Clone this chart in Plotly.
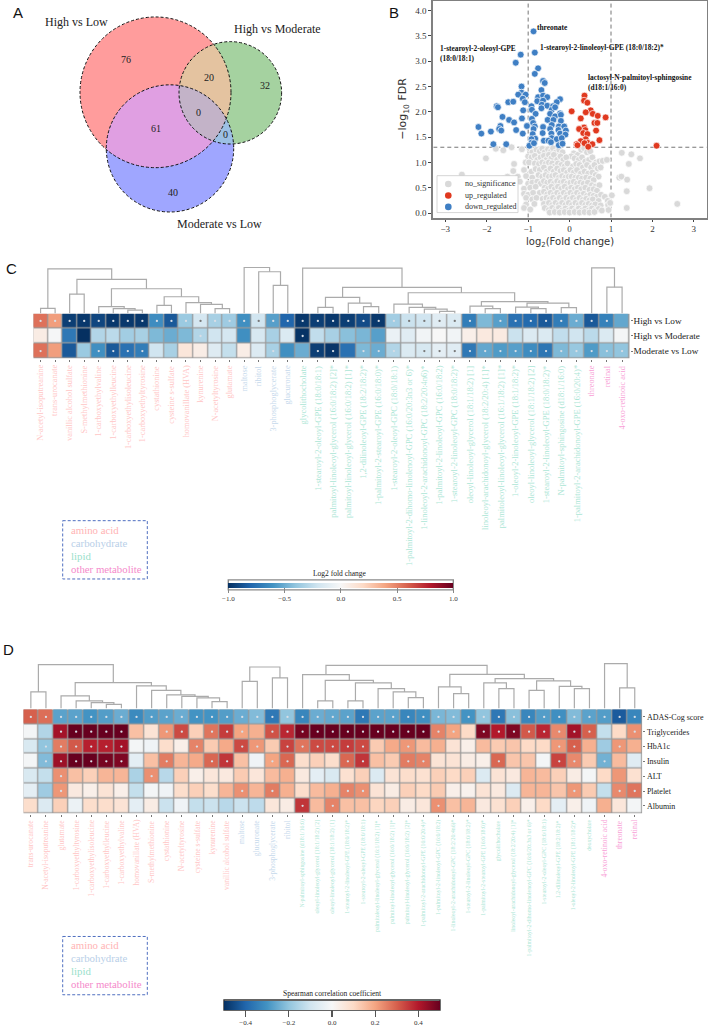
import math
import numpy as np
import plotly.graph_objects as go

W, H = 708, 1027
SERIF = "Liberation Serif"
SANS = "Liberation Sans"
CAT_COL = {"amino": "#FFB4B4", "carb": "#B9CFE8", "lipid": "#9ADFCB", "other": "#F58ACB"}
LAB_COL = {"amino": "#FFC6C6", "carb": "#C6D9EC", "lipid": "#ADE6D6", "other": "#F8A0D6"}

# ---------- panel B values ----------
blue_x = [-.87,-1.18,-.84,-1.30,-.76,-.84,-.64,-.60,-1.16,-.68,-1.16,-1.06,-1.24,-1.13,-.76,-.64,-.54,-.23,-1.48,-1.36,-1.08,-.78,-.64,-.31,-1.76,-1.73,-.92,-.67,-.54,-.40,-1.12,-.91,-.68,-.43,-.35,-.82,-.47,-.23,-1.62,-.35,-.21,-1.15,-.91,-1.46,-.53,-.39,-.21,-1.34,-.88,-1.67,-2.20,-1.03,-.64,-.84,-.43,-.26,-.13,-1.70,-1.29,-1.65,-.87,-.47,-.27,-.09,-1.90,-2.13,-1.13,-.89,-.65,-.44,-.23,-.10,-.83,-.92,-.43,-.31,-.19,-.62,-.51,-.92,-1.84,-1.53,-.97,-.86,-.45,-.26,-.17]
blue_y = [3.59,3.13,3.17,2.97,2.86,2.75,2.61,2.57,2.50,2.43,2.38,2.34,2.34,2.26,2.29,2.32,2.29,2.25,2.19,2.20,2.19,2.21,2.22,2.19,2.11,2.09,2.11,2.14,2.12,2.11,2.03,2.04,2.07,2.04,2.09,1.96,1.96,1.97,1.90,1.91,1.94,1.87,1.86,1.84,1.84,1.84,1.82,1.79,1.78,1.72,1.70,1.72,1.70,1.71,1.74,1.71,1.71,1.66,1.64,1.63,1.66,1.66,1.64,1.63,1.61,1.57,1.57,1.56,1.58,1.57,1.57,1.55,1.47,1.46,1.48,1.46,1.48,1.43,1.43,1.39,1.36,1.36,1.33,1.38,1.40,1.34,1.37]
red_x = [2.10,.36,.35,.43,.05,.51,.39,.56,.68,.87,.27,.60,.67,.35,.23,.64,.38,.33,.43,.39,.72,.27,.43,.36,.17,.19,.55,.45]
red_y = [1.33,2.32,2.22,2.18,2.01,2.03,1.99,1.96,1.92,1.89,1.87,1.78,1.78,1.69,1.66,1.63,1.64,1.58,1.56,1.46,1.44,1.42,1.39,1.38,1.36,1.34,1.36,1.31]
gray_pts = [(-1.78,1.27),(-1.6,1.24),(-1.4,1.30),(-1.15,1.26),(-.97,1.28),(-.9,1.2),(-.8,1.25),(-.72,1.22),(-.66,1.27),(-.6,1.2),(-.52,1.26),(-.45,1.22),(-.4,1.28),(-.33,1.2),(-.25,1.25),(-.17,1.2),(.1,1.18),(.2,1.15),(.28,1.25),(.35,1.28),(.42,1.2),(.5,1.22),(.04,1.12),
(-1,1.12),(-.92,1.1),(-.84,1.13),(-.78,1.05),(-.7,1.1),(-.62,1.13),(-.56,1.05),(-.5,1.15),(-.44,1.08),(-.38,1.15),(-.3,1.05),(-.22,1.12),(-.15,1.05),(-.08,1.1),(.12,1.08),(.22,1.05),(.3,1.1),(.38,1.02),(.47,1.05),(.55,1.1),(.64,1.0),(.72,1.02),(.8,1.03),(.9,1.05),
(-2.02,1.08),(-1.34,.97),(-1.06,1.0),(-.98,1.0),(-.84,.98),(-.74,.97),(-.66,1.0),(-.58,.97),(-.5,1.0),(-.42,.98),(-.36,.92),(-.28,.98),(-.2,.95),(-.12,.92),(-.05,.98),(.08,.92),(.16,.97),(.24,.95),(.32,.9),(.42,.95),(.52,.9),(.6,.95),(.68,.88),(.75,.9),
(-1.36,.83),(-1.1,.85),(-.92,.82),(-.82,.87),(-.72,.85),(-.62,.9),(-.55,.82),(-.46,.88),(-.38,.82),(-.3,.88),(-.22,.83),(-.14,.85),(-.06,.8),(.02,.85),(.1,.8),(.18,.85),(.27,.78),(.36,.82),(.45,.78),(.55,.8),(.63,.75),(.7,.72),(-1.5,.72),(-1.6,.68),(-2.6,.76),
(-1.25,.72),(-1.05,.73),(-.9,.7),(-.75,.75),(-.66,.72),(-.58,.75),(-.5,.72),(-.42,.73),(-.34,.75),(-.26,.7),(-.18,.73),(-.1,.7),(-.02,.72),(.05,.72),(.14,.7),(.22,.7),(.3,.68),(.4,.7),(.5,.68),(.58,.65),(1.2,.70),(1.25,.72),(1.39,.66),
(-1.35,.6),(-1.2,.62),(-1.0,.58),(-.9,.6),(-.78,.62),(-.7,.58),(-.62,.63),(-.54,.6),(-.46,.62),(-.38,.58),(-.3,.63),(-.22,.6),(-.14,.62),(-.06,.58),(.02,.6),(.1,.62),(.18,.58),(.26,.6),(.34,.58),(.44,.6),(.54,.55),(.62,.52),(.72,.55),
(-1.1,.48),(-.95,.5),(-.82,.52),(-.6,.5),(-.52,.48),(-.44,.52),(-.36,.47),(-.28,.52),(-.2,.48),(-.12,.52),(-.04,.47),(.04,.5),(.12,.47),(.2,.5),(.28,.47),(.38,.5),(.48,.46),(.58,.47),(.66,.44),(1.93,.49),(1.38,.43),
(-1.1,.38),(-1.0,.36),(-.88,.4),(-.72,.4),(-.62,.42),(-.54,.37),(-.46,.4),(-.38,.36),(-.3,.4),(-.22,.36),(-.14,.4),(-.06,.36),(.02,.4),(.1,.36),(.18,.4),(.26,.36),(.34,.38),(.42,.34),(.5,.36),(.58,.34),(.66,.32),(.76,.36),(.85,.32),(1.02,.35),
(-1.05,.3),(-.9,.27),(-.8,.3),(-.65,.28),(-.56,.3),(-.48,.27),(-.4,.3),(-.32,.26),(-.24,.3),(-.16,.26),(-.08,.3),(0,.27),(.08,.3),(.16,.26),(.24,.3),(.32,.26),(.4,.28),(.48,.25),(.56,.27),(.7,.24),(.92,.24),
(-1.05,.17),(-.85,.18),(-.62,.18),(-.5,.2),(-.42,.16),(-.34,.2),(-.26,.16),(-.18,.2),(-.1,.16),(-.02,.2),(.06,.16),(.14,.2),(.22,.16),(.3,.2),(.38,.16),(.46,.18),(.54,.15),(.62,.17),(.75,.15),(.93,.16),(.98,.2),(2.6,.18),
(-1.1,.1),(-.95,.07),(-.6,.1),(-.5,.06),(-.42,.1),(-.34,.06),(-.26,.1),(-.18,.05),(-.1,.09),(-.02,.05),(.06,.09),(.14,.05),(.22,.09),(.3,.05),(.38,.09),(.46,.05),(.54,.09),(.62,.05),(.7,.08),(.78,.05),(.94,.06),(1.38,.1),
(-.48,.01),(-.36,.02),(-.24,.01),(-.12,.02),(0,.01),(.12,.02),(.24,.01),(.36,.02),(.48,.01),(.6,.02),
(1.26,1.19),(1.49,1.16),(1.43,.97),(1.70,1.08)]
gray_x = [p[0] for p in gray_pts]
gray_y = [p[1] for p in gray_pts]

# ---------- panel C values ----------
c_rows = ["High vs Low", "High vs Moderate", "Moderate vs Low"]
c_hvl = [.55,.42,-.95,-.97,-.92,-.97,-.97,-.97,-.63,-.85,-.37,-.18,-.33,-.36,-.62,-.2,-.55,-.8,-.97,-.95,-.97,-.95,-.9,-.97,-.35,-.22,-.2,-.12,-.15,-.7,-.45,-.55,-.75,-.78,-.85,-.7,-.5,-.85,-.68,-.52]
c_hvm = [.08,-.01,-.72,-1.0,-.3,-.27,-.35,-.33,-.45,-.5,-.45,-.3,-.2,-.18,-.62,-.17,-.33,-.15,-.99,-.25,-.33,-.42,-.46,-.55,-.07,-.12,-.03,0,-.03,.06,.1,.09,-.22,-.14,-.15,-.25,-.2,-.27,-.15,-.02]
c_mvl = [.55,.42,-.85,-.37,-.62,-.85,-.75,-.7,-.2,-.33,.12,.07,-.13,-.24,.07,-.14,-.33,-.62,-.5,-.95,-.98,-.75,-.45,-.5,-.3,-.15,-.17,-.1,-.12,-.72,-.52,-.57,-.55,-.63,-.73,-.45,-.38,-.57,-.42,-.4]
c_sig_hvl = list(range(0,30)) + list(range(31,39))
c_sig_hvm = [11,18]
c_sig_mvl = [0,4,5,6,7,16,19,20,22,23,24,26,27,28,29,30,31,32,33,34,35,36,37,38,39]
c_amino = ["N-acetyl-isoputreanine","trans-urocanate","vanillic alcohol sulfate","S-methylmethionine","1-carboxyethylvaline","1-carboxyethylleucine","1-carboxyethylisoleucine","1-carboxyethyltyrosine","cystathionine","cysteine s-sulfate","homovanillate (HVA)","kynurenine","N-acetyltyrosine","glutamate"]
c_carb = ["maltose","ribitol","3-phosphoglycerate","glucuronate"]
c_lipid = ["glycolithocholate","1-stearoyl-2-oleoyl-GPE (18:0/18:1)","palmitoyl-linoleoyl-glycerol (16:0/18:2) [2]*","palmitoyl-linoleoyl-glycerol (16:0/18:2) [1]*","1,2-dilinoleoyl-GPE (18:2/18:2)*","1-palmitoyl-2-stearoyl-GPE (16:0/18:0)*","1-stearoyl-2-oleoyl-GPC (18:0/18:1)","1-palmitoyl-2-dihomo-linolenoyl-GPC (16:0/20:3n3 or 6)*","1-linoleoyl-2-arachidonoyl-GPC (18:2/20:4n6)*","1-palmitoyl-2-linoleoyl-GPC (16:0/18:2)","1-stearoyl-2-linoleoyl-GPC (18:0/18:2)*","oleoyl-linoleoyl-glycerol (18:1/18:2) [1]","linoleoyl-arachidonoyl-glycerol (18:2/20:4) [1]*","palmitoleoyl-linoleoyl-glycerol (16:1/18:2) [1]*","1-oleoyl-2-linoleoyl-GPE (18:1/18:2)*","oleoyl-linoleoyl-glycerol (18:1/18:2) [2]","1-stearoyl-2-linoleoyl-GPE (18:0/18:2)*","N-palmitoyl-sphingosine (d18:1/16:0)","1-palmitoyl-2-arachidonoyl-GPE (16:0/20:4)*"]
c_other = ["threonate","retinal","4-oxo-retinoic acid"]
c_trees = [
 (44.7,(5,0,1),(34,(19.3,2,3),(24.7,(6.7,4,(4.7,5,(3.3,6,7))),(16.7,(8,8,9),(10.7,10,(9,11,(4.7,12,13))))))),
 (46,14,(41.7,15,(28,16,17))),
 (45.3,18,(26,(16,(6,19,20),(10.3,21,(6.7,22,23))),(20.7,(9.3,24,(6,25,(4.3,26,(2,27,28)))),(11.7,(7.3,29,(4.7,30,31)),(10.3,(6.3,32,(4.7,33,34)),(5.7,35,36)))))),
 (45.7,37,(26.3,38,39)),
]

# ---------- panel D values ----------
d_rows = ["ADAS-Cog score","Triglycerides","HbA1c","Insulin","ALT","Platelet","Albumin"]
d_adas = [.3,.28,-.27,-.27,-.3,-.28,-.25,-.32,-.28,-.27,-.25,-.3,-.3,-.28,-.25,-.22,-.36,-.2,-.33,-.25,-.26,-.27,-.36,-.27,-.27,-.33,-.31,-.23,-.22,-.3,-.2,-.36,-.21,-.33,-.28,-.31,-.22,-.27,-.28,-.42,-.33]
d_tg = [-.01,-.15,.42,.5,.5,.5,.5,.15,.07,.22,.33,.12,.27,.35,.2,.18,.32,.38,.48,.5,.5,.5,.5,.5,.5,.5,.5,.25,.2,.1,.47,.4,.47,.31,.38,.24,.42,.3,-.12,.1,.23]
d_hba = [-.08,-.2,.26,.31,.39,.39,.42,-.01,-.02,.09,.03,.25,.13,.19,.33,.22,.13,.34,.27,.33,.33,.35,.33,.13,.19,.22,.16,.18,.07,.03,.16,.13,.14,.1,.1,.22,.3,.18,-.18,.22,.18]
d_ins = [-.01,-.22,.43,.5,.5,.48,.47,-.05,.15,.26,.17,.19,.29,.36,.15,-.02,.2,.29,.09,.12,.09,.29,.36,.15,.13,.26,.25,.07,.07,.04,.03,.29,.14,.14,-.01,.34,.24,.13,-.24,.16,-.06]
d_alt = [-.08,-.12,.23,.15,.12,.17,.17,-.16,.23,-.14,.12,.03,.06,.05,.13,.06,.16,.18,.05,-.05,-.08,.08,.12,-.07,.07,.09,.08,.12,.1,.12,-.07,.07,.05,.17,.16,.12,.04,-.01,.1,.22,.08]
d_plt = [-.05,-.18,.22,.05,.03,.07,.03,-.12,-.01,-.02,.09,.12,.09,.17,.23,.17,.26,.18,.09,.16,.18,.25,.23,.07,.04,.12,.1,.13,.03,.02,.07,.05,-.07,.17,.17,.14,.22,.13,-.12,.24,.27]
d_alb = [.09,-.07,.12,-.03,.09,.09,.07,-.05,.04,-.11,-.02,-.12,-.11,-.14,-.11,-.13,.06,.04,.36,.16,.25,.15,.15,.11,.12,.04,.06,.23,.15,.17,.05,.08,.12,.03,.1,-.05,.03,-.02,.18,.06,-.01]
d_sig_adas = list(range(41))
d_sig_tg = [2,3,4,5,6,9,10,12,13,14,16,17,18,19,20,21,22,23,24,25,26,27,28,30,31,32,33,34,35,36,37,40]
d_sig_hba = [1,2,3,4,5,6,11,14,15,17,18,19,20,21,22,25,35,36,39]
d_sig_ins = [1,2,3,4,5,6,9,12,13,16,17,21,22,25,26,31,35,36,38]
d_sig_alt = [2,8]
d_sig_plt = [2,14,16,21,22,36,39,40]
d_sig_alb = [18,20,27]
d_amino = ["trans-urocanate","N-acetyl-isoputreanine","glutamate","1-carboxyethyltyrosine","1-carboxyethylisoleucine","1-carboxyethylleucine","1-carboxyethylvaline","homovanillate (HVA)","S-methylmethionine","cystathionine","N-acetyltyrosine","cysteine s-sulfate","kynurenine","vanillic alcohol sulfate"]
d_carb = ["maltose","glucuronate","3-phosphoglycerate","ribitol"]
d_lipid = ["N-palmitoyl-sphingosine (d18:1/16:0)","oleoyl-linoleoyl-glycerol (18:1/18:2) [2]","oleoyl-linoleoyl-glycerol (18:1/18:2) [1]","1-stearoyl-2-linoleoyl-GPE (18:0/18:2)*","1-stearoyl-2-oleoyl-GPE (18:0/18:1)","palmitoleoyl-linoleoyl-glycerol (16:1/18:2) [1]*","palmitoyl-linoleoyl-glycerol (16:0/18:2) [1]*","palmitoyl-linoleoyl-glycerol (16:0/18:2) [2]*","1-palmitoyl-2-arachidonoyl-GPE (16:0/20:4)*","1-palmitoyl-2-linoleoyl-GPC (16:0/18:2)","1-linoleoyl-2-arachidonoyl-GPC (18:2/20:4n6)*","1-stearoyl-2-linoleoyl-GPC (18:0/18:2)*","1-palmitoyl-2-stearoyl-GPE (16:0/18:0)*","glycolithocholate","linoleoyl-arachidonoyl-glycerol (18:2/20:4) [1]*","1-palmitoyl-2-dihomo-linolenoyl-GPC (16:0/20:3n3 or 6)*","1-stearoyl-2-oleoyl-GPC (18:0/18:1)","1,2-dilinoleoyl-GPE (18:2/18:2)*","1-oleoyl-2-linoleoyl-GPE (18:1/18:2)*","deoxycholate"]
d_other = ["4-oxo-retinoic acid","threonate","retinal"]
d_trees = [
 (44,(16.7,0,1),(26,(12.7,2,(7.7,3,(6,4,(4.3,5,6)))),(22.7,7,(18.3,8,(13.7,9,(12.3,10,(10.7,11,(7,12,13)))))))),
 (41.7,(27.3,14,15),(30.7,16,17)),
 (43.3,(34,18,(28.3,(7.7,19,20),(25.7,(7.7,21,22),(20,23,(16.7,24,(11,25,26)))))),(34.3,(21.7,27,(15,28,29)),(30,(25.7,30,(20,31,32)),(27.7,(18.3,33,34),(22.3,35,(20,36,37)))))),
 (45,38,(20.7,39,40)),
]

# ---------- helpers ----------
def dx(a, b): return [a / W, b / W]
def dy(top, bot): return [1 - bot / H, 1 - top / H]

fig = go.Figure()
annotations = []
shapes = []

def note(x, y, text, size=9, color="#222", family=SERIF, xanchor="center", yanchor="middle", **kw):
    annotations.append(dict(x=x, y=y, xref="x", yref="y", text=text, showarrow=False,
                            font=dict(size=size, color=color, family=family),
                            xanchor=xanchor, yanchor=yanchor, **kw))

# canvas with page-pixel coordinates, for the Venn diagram, framing boxes and titles
layout_axes = dict(
    xaxis=dict(domain=[0, 1], range=[0, W], visible=False, fixedrange=True),
    yaxis=dict(domain=[0, 1], range=[H, 0], visible=False, fixedrange=True),
)

# ---------- panel A: Venn ----------
circles = {"R": (155.5, 92.5, 75.5), "G": (230.3, 93, 51.3), "B": (170, 148.7, 63.7)}

def region(keys):
    pts = []
    ang = np.linspace(0, 2 * math.pi, 720, endpoint=False)
    for k in keys:
        cx_, cy_, r = circles[k]
        for a in ang:
            px, py = cx_ + r * math.cos(a), cy_ + r * math.sin(a)
            if all((px - circles[o][0]) ** 2 + (py - circles[o][1]) ** 2 <= circles[o][2] ** 2 for o in keys if o != k):
                pts.append((px, py))
    mx = sum(p[0] for p in pts) / len(pts)
    my = sum(p[1] for p in pts) / len(pts)
    pts.sort(key=lambda p: math.atan2(p[1] - my, p[0] - mx))
    return [p[0] for p in pts] + [pts[0][0]], [p[1] for p in pts] + [pts[0][1]]

venn_regions = [("R", "#FF9C9C"), ("G", "#A5D2A0"), ("B", "#9FA6FF"), ("RG", "#E4C3A0"),
                ("RB", "#E09FE2"), ("GB", "#9CC0E4"), ("RGB", "#C3B3C8")]
for keys, col in venn_regions:
    rx, ry = region(keys)
    fig.add_trace(go.Scatter(x=rx, y=ry, mode="lines", fill="toself", fillcolor=col, line=dict(width=0),
                             hoverinfo="skip", showlegend=False, xaxis="x", yaxis="y"))
for k, (cx_, cy_, r) in circles.items():
    shapes.append(dict(type="circle", xref="x", yref="y", x0=cx_ - r, x1=cx_ + r, y0=cy_ - r, y1=cy_ + r,
                       line=dict(color="#111", width=1, dash="3px,2px"), layer="above"))
venn_labels = [("High vs Low", 76.5, 22), ("High vs Moderate", 277, 29), ("Moderate vs Low", 219, 224)]
for t, x, y in venn_labels:
    note(x, y, t, size=12, color="#222")
venn_counts = [("76", 125.7, 60), ("20", 209, 77.5), ("32", 265, 86), ("0", 198, 113),
               ("61", 156, 128.5), ("0", 225.5, 135), ("40", 173, 193)]
for t, x, y in venn_counts:
    note(x, y, t, size=10, color="#222")

# panel letters
for t, x, y in [("A", 18, 13), ("B", 394, 13), ("C", 11, 269), ("D", 8, 651)]:
    note(x, y, t, size=15, color="#111", family=SANS)

# ---------- panel B: volcano ----------
volcano_series = [("no_significance", gray_x, gray_y, "#D9D9D9"),
                  ("up_regulated", red_x, red_y, "#E0391F"),
                  ("down_regulated", blue_x, blue_y, "#3F7FC4")]
for name, xs, ys, col in volcano_series:
    fig.add_trace(go.Scatter(x=xs, y=ys, mode="markers", name=name, xaxis="x2", yaxis="y2", showlegend=False,
                             marker=dict(size=6.8, color=col, line=dict(color="white", width=0.7)),
                             hoverinfo="skip"))
layout_axes["xaxis2"] = dict(domain=dx(433.3, 706.7), range=[-3.29, 3.31], anchor="y2", tickvals=[-3,-2,-1,0,1,2,3],
                             ticks="outside", ticklen=2, tickcolor="#444", showgrid=False, zeroline=False,
                             showline=True, mirror=True, linecolor="#808080", linewidth=2,
                             tickfont=dict(family=SERIF, size=9, color="#333"))
layout_axes["yaxis2"] = dict(domain=dy(1, 218), range=[-0.09, 4.19], anchor="x2", tickvals=[0,.5,1,1.5,2,2.5,3,3.5,4],
                             tickformat=".1f", ticks="outside", ticklen=3, tickcolor="#444", showgrid=False, zeroline=False,
                             showline=True, mirror=True, linecolor="#808080", linewidth=2,
                             tickfont=dict(family=SERIF, size=9, color="#333"))
for x_ in (-1, 1):
    shapes.append(dict(type="line", xref="x2", yref="y2", x0=x_, x1=x_, y0=-0.09, y1=4.19,
                       line=dict(color="#666", width=0.9, dash="4px,3px"), layer="below"))
shapes.append(dict(type="line", xref="x2", yref="y2", x0=-3.29, x1=3.31, y0=1.3, y1=1.3,
                   line=dict(color="#666", width=0.9, dash="4px,3px"), layer="below"))
volcano_notes = [("threonate", 535, 28), ("1-stearoyl-2-linoleoyl-GPE (18:0/18:2)*", 538, 48),
                 ("1-stearoyl-2-oleoyl-GPE<br>(18:0/18:1)", 438, 54),
                 ("lactosyl-N-palmitoyl-sphingosine<br>(d18:1/16:0)", 585.5, 83)]
for t, x, y in volcano_notes:
    note(x, y, "<b>" + t.replace("<br>", "</b><br><b>") + "</b>", size=7.4, color="#111", xanchor="left", align="left")
note(570, 243, "log<sub>2</sub>(Fold change)", size=10, color="#333", family="DejaVu Sans")
note(403, 109, "−log<sub>10</sub> FDR", size=11, color="#333", family="DejaVu Sans", textangle=-90)

# legend of the volcano plot
shapes.append(dict(type="rect", xref="x", yref="y", x0=437, x1=518, y0=176, y1=213, fillcolor="white",
                   line=dict(color="#CCCCCC", width=0.8), layer="above"))
for k, (name, _xs, _ys, col) in enumerate(volcano_series):
    yc = 184.3 + 11.5 * k
    shapes.append(dict(type="circle", xref="x", yref="y", x0=445, x1=451.6, y0=yc - 3.3, y1=yc + 3.3,
                       fillcolor=col, line=dict(width=0), layer="above"))
    note(463.3, yc, name, size=8, color="#333", xanchor="left")

# ---------- heat map helper ----------
def add_panel(ax, z, rows, sig, labels, x_edges, dend_trees, top, bot, left, right, dend_top,
              zmax, cbar, label_top, sizes, row_size, row_standoff):
    n = len(x_edges) - 1
    centres = [(x_edges[i] + x_edges[i + 1]) / 2 for i in range(n)]
    xa, ya = f"x{ax}", f"y{ax}"
    xb, yb = f"x{ax+1}", f"y{ax+1}"
    fig.add_trace(go.Heatmap(z=z, x=x_edges, y=rows, colorscale="RdBu_r", zmin=-zmax, zmax=zmax,
                             xgap=1.2, ygap=1.2, xaxis=xa, yaxis=ya, hoverinfo="skip", colorbar=cbar))
    shapes.append(dict(type="rect", xref=xa, yref=ya, x0=x_edges[0], x1=x_edges[-1], y0=-0.5, y1=len(rows) - 0.5,
                       fillcolor="#9A9A9A", line=dict(width=0), layer="below"))
    sx, sy, sc = [], [], []
    for r, cols in enumerate(sig):
        for c in cols:
            sx.append(centres[c]); sy.append(rows[r])
            sc.append("#D8DEE6" if abs(z[r][c]) / zmax > 0.28 else "#777777")
    fig.add_trace(go.Scatter(x=sx, y=sy, mode="markers", xaxis=xa, yaxis=ya, showlegend=False, hoverinfo="skip",
                             marker=dict(size=2.3, color=sc, line=dict(width=0))))
    layout_axes[f"xaxis{ax}"] = dict(domain=dx(left, right), range=[x_edges[0], x_edges[-1]], anchor=ya,
                                     tickvals=centres, showticklabels=False, ticks="outside", ticklen=2, tickwidth=0.8,
                                     tickcolor="#555", showgrid=False, zeroline=False, showline=False)
    layout_axes[f"yaxis{ax}"] = dict(domain=dy(top, bot), anchor=xa, side="right", autorange="reversed", type="category",
                                     ticks="outside", ticklen=2, tickwidth=0.8, tickcolor="#555", showgrid=False,
                                     zeroline=False, showline=False, ticklabelstandoff=row_standoff,
                                     tickfont=dict(family=SERIF, size=row_size, color="#222"))
    # dendrogram
    lx, ly = [], []
    def walk(node):
        if isinstance(node, int):
            return centres[node], 0
        h, a, b = node
        xl, hl = walk(a)
        xr, hr = walk(b)
        lx.extend([xl, xl, xr, xr, None]); ly.extend([hl, h, h, hr, None])
        return (xl + xr) / 2, h
    for tr in dend_trees:
        walk(tr)
    fig.add_trace(go.Scatter(x=lx, y=ly, mode="lines", line=dict(color="#ABABAB", width=1.2), xaxis=xb, yaxis=yb,
                             showlegend=False, hoverinfo="skip"))
    layout_axes[f"xaxis{ax+1}"] = dict(domain=dx(left, right), range=[x_edges[0], x_edges[-1]], anchor=yb, visible=False)
    layout_axes[f"yaxis{ax+1}"] = dict(domain=dy(dend_top, top), range=[0, top - dend_top], anchor=xb, visible=False)
    # coloured rotated labels
    for i, (txt, cat) in enumerate(labels):
        annotations.append(dict(x=centres[i], xref=xa, y=1 - label_top / H, yref="paper", text=txt, textangle=-90,
                                showarrow=False, xanchor="center", yanchor="top",
                                font=dict(family=SERIF, size=sizes[cat], color=LAB_COL[cat])))

def legend_box(top):
    shapes.append(dict(type="rect", xref="x", yref="y", x0=62.7, x1=147.3, y0=top, y1=top + 58.4,
                       line=dict(color="#4F6FC0", width=1, dash="3px,2px"), layer="above"))
    for k, (t, cat) in enumerate([("amino acid", "amino"), ("carbohydrate", "carb"), ("lipid", "lipid"), ("other metabolite", "other")]):
        note(69, top + 9 + 13 * k, t, size=10.8, color=CAT_COL[cat], xanchor="left")

def cbar_frame(x0, x1, y0, y1, col):
    shapes.append(dict(type="rect", xref="x", yref="y", x0=x0, x1=x1, y0=y0, y1=y1,
                       line=dict(color=col, width=1.4), layer="above"))

# ---------- panel C ----------
c_z = [c_hvl, c_hvm, c_mvl]
c_labels = [(t, "amino") for t in c_amino] + [(t, "carb") for t in c_carb] + [(t, "lipid") for t in c_lipid] + [(t, "other") for t in c_other]
c_edges = [33.3 + 14.55 * i for i in range(19)] + [33.3 + 14.55 * 18 + 15.22 * i for i in range(1, 23)]
c_cbar = dict(orientation="h", x=228.3 / W, xanchor="left", y=1 - 584 / H, yanchor="top", lenmode="pixels", len=225,
              thicknessmode="pixels", thickness=4.5, outlinewidth=0, xpad=0, ypad=0, ticks="outside", ticklen=5, tickwidth=1,
              tickcolor="#888", tickvals=[-1, -.5, 0, .5, 1], tickformat=".1f",
              tickfont=dict(family=SERIF, size=7, color="#333"))
add_panel(3, c_z, c_rows, [c_sig_hvl, c_sig_hvm, c_sig_mvl], c_labels, c_edges, c_trees, 314, 359.3, 33.3, 629.7, 264,
          1.0, c_cbar, 364, {"amino": 8.3, "carb": 8.3, "lipid": 8.5, "other": 8.3}, 9.2, -1)
legend_box(521.7)
cbar_frame(228.3, 453.3, 581, 591, "#8A8A8A")
note(340, 574.5, "Log2 fold change", size=7.5, color="#222")

# ---------- panel D ----------
d_z = [d_adas, d_tg, d_hba, d_ins, d_alt, d_plt, d_alb]
d_labels = [(t, "amino") for t in d_amino] + [(t, "carb") for t in d_carb] + [(t, "lipid") for t in d_lipid] + [(t, "other") for t in d_other]
d_edges = [23.3 + 15.097 * i for i in range(42)]
d_cbar = dict(orientation="h", x=224 / W, xanchor="left", y=1 - 1002.5 / H, yanchor="top", lenmode="pixels", len=216,
              thicknessmode="pixels", thickness=8.5, outlinewidth=0, xpad=0, ypad=0, ticks="outside", ticklen=7, tickwidth=1.4,
              tickcolor="#555", tickvals=[-.4, -.2, 0, .2, .4], tickformat=".1f",
              tickfont=dict(family=SERIF, size=7, color="#333"))
add_panel(5, d_z, d_rows, [d_sig_adas, d_sig_tg, d_sig_hba, d_sig_ins, d_sig_alt, d_sig_plt, d_sig_alb], d_labels, d_edges, d_trees,
          710, 815.7, 23.3, 642.3, 660, 0.5, d_cbar, 819.5, {"amino": 7.6, "carb": 7.6, "lipid": 5.8, "other": 7.6}, 8, 0)
legend_box(938.3)
cbar_frame(224, 440, 1002, 1012, "#333333")
note(332, 995.5, "Spearman correlation coefficient", size=7.5, color="#222")

fig.update_layout(
    width=W, height=H, autosize=False, margin=dict(l=0, r=0, t=0, b=0),
    paper_bgcolor="white", plot_bgcolor="white",
    font=dict(family=SERIF),
    showlegend=False,
    annotations=annotations, shapes=shapes, **layout_axes,
)

fig.write_html("out.html", config={"displayModeBar": False, "staticPlot": True},
               post_script="document.body.style.margin='0';document.body.style.overflow='hidden';")
